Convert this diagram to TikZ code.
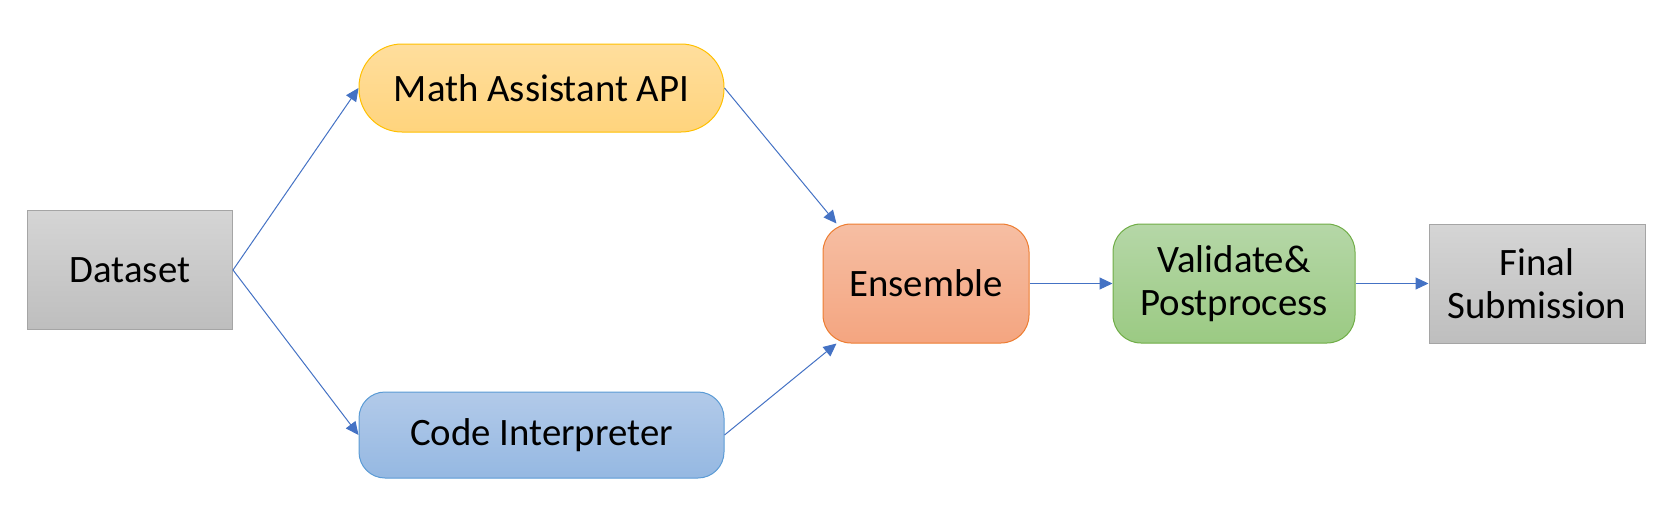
\documentclass[tikz,border=0pt]{standalone}
\usepackage{fontspec}
\setmainfont{Carlito}
\usepackage{tikz}
\usetikzlibrary{shapes,arrows.meta}
\definecolor{link}{HTML}{4472C4}
\definecolor{grayline}{HTML}{A5A5A5}
\definecolor{mathline}{HTML}{FFC000}
\definecolor{codeline}{HTML}{5B9BD5}
\definecolor{ensline}{HTML}{ED7D31}
\definecolor{valline}{HTML}{70AD47}
\tikzset{box/.style={shape=rectangle, draw, line width=0.5pt, align=center, inner sep=0pt,
    font=\fontsize{19.4}{21.5}\selectfont},
  graybox/.style={box, draw=grayline, top color={rgb,255:red,213;green,213;blue,213}, bottom color={rgb,255:red,190;green,190;blue,190}},
  mathbox/.style={box, draw=mathline, rounded corners=21.5pt, top color={rgb,255:red,255;green,222;blue,157}, bottom color={rgb,255:red,255;green,212;blue,125}},
  codebox/.style={box, draw=codeline, rounded corners=13pt, top color={rgb,255:red,178;green,202;blue,233}, bottom color={rgb,255:red,149;green,184;blue,226}},
  ensbox/.style={box, draw=ensline, rounded corners=14pt, top color={rgb,255:red,246;green,190;blue,163}, bottom color={rgb,255:red,244;green,165;blue,128}},
  valbox/.style={box, draw=valline, rounded corners=14pt, top color={rgb,255:red,181;green,215;blue,167}, bottom color={rgb,255:red,155;green,202;blue,131}},
  link/.style={draw=link, line width=0.5pt, -{Triangle[length=6.5pt,width=6pt]}}}
\begin{document}
\begin{tikzpicture}[x=0.5pt, y=-0.5pt]
    \useasboundingbox (0,0) rectangle (1670,504);
    \node[graybox, minimum width=102.5pt, minimum height=59.5pt] (data) at (130,270) {Dataset};
    \node[mathbox, minimum width=182.5pt, minimum height=44pt] (math) at (541.5,88) {Math Assistant API};
    \node[codebox, minimum width=182.5pt, minimum height=43pt] (code) at (541.5,435) {Code Interpreter};
    \node[ensbox, minimum width=103pt, minimum height=59.5pt] (ens) at (926,283.5) {Ensemble};
    \node[valbox, minimum width=121pt, minimum height=59.5pt] (val) at (1234,283.5) {Validate\&\\Postprocess};
    \node[graybox, minimum width=108pt, minimum height=59.5pt] (final) at (1537,283.5) {Final\\Submission};
    \draw[link] (data.east) -- (math.west);
    \draw[link] (data.east) -- (code.west);
    \draw[link] (math.east) -- ([xshift=7pt]ens.north west);
    \draw[link] (code.east) -- ([xshift=7pt]ens.south west);
    \draw[link] (ens.east) -- (val.west);
    \draw[link] (val.east) -- (final.west);
  \end{tikzpicture}
\end{document}
